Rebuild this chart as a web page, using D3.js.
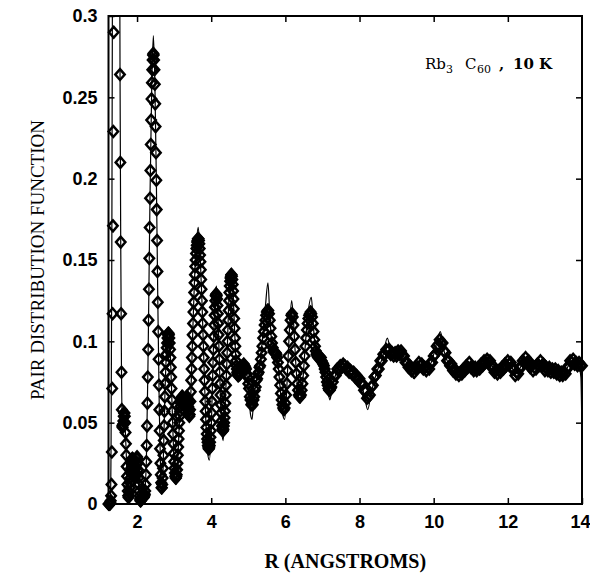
<!DOCTYPE html>
<html>
<head>
<meta charset="utf-8">
<script src="https://cdn.jsdelivr.net/npm/d3@7"></script>
<style>
  body { margin: 0; background: #fff; }
  svg { display: block; }
</style>
</head>
<body>
<div id="chart"></div>
<script>
// measured PDF, fine sampling (R from 1.23 in steps of 0.01)
const rStartFine = 1.23, rStepFine = 0.01;
const gFine = [
  0.000, 0.000, 0.000, 0.000, 0.000, 0.001, 0.002, 0.005, 0.012, 0.032, // 1.23
  0.071, 0.117, 0.171, 0.229, 0.290, 0.352, 0.420, 0.500, 0.580, 0.640, // 1.33
  0.680, 0.700, 0.700, 0.670, 0.620, 0.560, 0.500, 0.440, 0.390, 0.350, // 1.43
  0.308, 0.264, 0.210, 0.161, 0.117, 0.081, 0.058, 0.048, 0.047, 0.049, // 1.53
  0.051, 0.054, 0.056, 0.056, 0.054, 0.050, 0.044, 0.037, 0.030, 0.023, // 1.63
  0.017, 0.012, 0.008, 0.005, 0.004, 0.005, 0.007, 0.010, 0.013, 0.016, // 1.73
  0.019, 0.022, 0.025, 0.027, 0.028, 0.028, 0.027, 0.025, 0.022, 0.019, // 1.83
  0.017, 0.016, 0.017, 0.019, 0.022, 0.025, 0.028, 0.029, 0.028, 0.025, // 1.93
  0.021, 0.016, 0.012, 0.008, 0.005, 0.003, 0.002, 0.002, 0.003, 0.004, // 2.03
  0.004, 0.004, 0.004, 0.004, 0.004, 0.004, 0.005, 0.005, 0.006, 0.008, // 2.13
  0.012, 0.018, 0.026, 0.036, 0.048, 0.062, 0.078, 0.095, 0.113, 0.132, // 2.23
  0.151, 0.170, 0.188, 0.205, 0.221, 0.236, 0.249, 0.259, 0.267, 0.273, // 2.33
  0.276, 0.277, 0.276, 0.273, 0.267, 0.258, 0.246, 0.232, 0.216, 0.199, // 2.43
  0.181, 0.162, 0.143, 0.124, 0.106, 0.089, 0.073, 0.058, 0.045, 0.034, // 2.53
  0.025, 0.018, 0.013, 0.010, 0.010, 0.012, 0.016, 0.022, 0.030, 0.039, // 2.63
  0.048, 0.057, 0.066, 0.074, 0.081, 0.087, 0.092, 0.096, 0.099, 0.102, // 2.73
  0.104, 0.105, 0.105, 0.104, 0.102, 0.099, 0.095, 0.090, 0.084, 0.078, // 2.83
  0.071, 0.064, 0.057, 0.050, 0.043, 0.037, 0.031, 0.026, 0.022, 0.019, // 2.93
  0.017, 0.016, 0.016, 0.017, 0.018, 0.021, 0.025, 0.030, 0.035, 0.040, // 3.03
  0.045, 0.050, 0.054, 0.057, 0.060, 0.062, 0.064, 0.065, 0.066, 0.066, // 3.13
  0.066, 0.065, 0.064, 0.063, 0.062, 0.061, 0.061, 0.062, 0.063, 0.064, // 3.23
  0.065, 0.066, 0.066, 0.065, 0.063, 0.060, 0.057, 0.055, 0.054, 0.055, // 3.33
  0.058, 0.063, 0.069, 0.076, 0.083, 0.090, 0.097, 0.104, 0.111, 0.118, // 3.43
  0.124, 0.130, 0.136, 0.141, 0.146, 0.150, 0.154, 0.157, 0.159, 0.161, // 3.53
  0.162, 0.163, 0.163, 0.163, 0.162, 0.160, 0.157, 0.153, 0.149, 0.144, // 3.63
  0.138, 0.132, 0.125, 0.118, 0.111, 0.104, 0.097, 0.090, 0.083, 0.076, // 3.73
  0.069, 0.063, 0.057, 0.052, 0.047, 0.043, 0.040, 0.038, 0.036, 0.035, // 3.83
  0.034, 0.034, 0.035, 0.036, 0.038, 0.041, 0.045, 0.050, 0.056, 0.063, // 3.93
  0.071, 0.079, 0.087, 0.095, 0.103, 0.110, 0.116, 0.121, 0.125, 0.128, // 4.03
  0.129, 0.129, 0.128, 0.126, 0.122, 0.117, 0.111, 0.104, 0.097, 0.089, // 4.13
  0.081, 0.074, 0.067, 0.061, 0.056, 0.051, 0.048, 0.046, 0.045, 0.045, // 4.23
  0.046, 0.048, 0.050, 0.053, 0.057, 0.062, 0.067, 0.073, 0.079, 0.086, // 4.33
  0.093, 0.100, 0.107, 0.113, 0.119, 0.125, 0.130, 0.134, 0.137, 0.139, // 4.43
  0.140, 0.141, 0.141, 0.140, 0.138, 0.135, 0.131, 0.126, 0.120, 0.114, // 4.53
  0.108, 0.102, 0.097, 0.092, 0.088, 0.085, 0.083, 0.081, 0.080, 0.079, // 4.63
  0.079, 0.079, 0.080                                                   // 4.73
];

// R from 4.76 in steps of 0.02
const rStartMid = 4.76, rStepMid = 0.02;
const gMid = [
  0.081, 0.080, 0.083, 0.082, 0.085, 0.084, 0.086, 0.085, 0.084, 0.083, // 4.76
  0.080, 0.078, 0.074, 0.071, 0.066, 0.064, 0.061, 0.062, 0.061, 0.064, // 4.96
  0.066, 0.070, 0.072, 0.076, 0.077, 0.080, 0.081, 0.084, 0.085, 0.089, // 5.16
  0.093, 0.097, 0.102, 0.106, 0.110, 0.113, 0.116, 0.118, 0.119, 0.119, // 5.36
  0.117, 0.113, 0.108, 0.103, 0.099, 0.096, 0.094, 0.093, 0.093, 0.093, // 5.56
  0.092, 0.090, 0.087, 0.083, 0.078, 0.073, 0.068, 0.064, 0.061, 0.059, // 5.76
  0.058, 0.059, 0.062, 0.067, 0.074, 0.082, 0.091, 0.100, 0.107, 0.113, // 5.96
  0.116, 0.117, 0.115, 0.110, 0.103, 0.095, 0.087, 0.080, 0.074, 0.070, // 6.16
  0.067, 0.066, 0.066, 0.067, 0.070, 0.074, 0.079, 0.085, 0.091, 0.097, // 6.36
  0.102, 0.107, 0.111, 0.114, 0.116, 0.117, 0.118, 0.117, 0.115, 0.111, // 6.56
  0.106, 0.101, 0.097, 0.094, 0.092, 0.091, 0.090, 0.090, 0.091, 0.089, // 6.76
  0.090, 0.088, 0.087, 0.086, 0.085, 0.083, 0.081, 0.078, 0.075, 0.073, // 6.96
  0.071, 0.070, 0.070, 0.071, 0.072                                     // 7.16
];

// R from 7.28 in steps of 0.04
const rStartLong = 7.28, rStepLong = 0.04;
const gLong = [
  0.075, 0.079, 0.079, 0.083, 0.082, 0.085, 0.084, 0.086, 0.085, 0.083, // 7.28
  0.084, 0.081, 0.082, 0.080, 0.081, 0.078, 0.079, 0.076, 0.077, 0.074, // 7.68
  0.074, 0.070, 0.069, 0.065, 0.066, 0.067, 0.072, 0.073, 0.078, 0.079, // 8.08
  0.083, 0.083, 0.088, 0.088, 0.092, 0.092, 0.095, 0.094, 0.095, 0.092, // 8.48
  0.093, 0.091, 0.093, 0.091, 0.094, 0.092, 0.094, 0.091, 0.091, 0.087, // 8.88
  0.087, 0.084, 0.085, 0.082, 0.083, 0.081, 0.083, 0.084, 0.087, 0.085, // 9.28
  0.086, 0.083, 0.084, 0.082, 0.084, 0.083, 0.087, 0.087, 0.091, 0.092, // 9.68
  0.097, 0.098, 0.101, 0.099, 0.099, 0.094, 0.093, 0.088, 0.088, 0.085, // 10.08
  0.086, 0.082, 0.083, 0.080, 0.081, 0.079, 0.081, 0.080, 0.083, 0.082, // 10.48
  0.085, 0.084, 0.087, 0.084, 0.084, 0.082, 0.084, 0.082, 0.084, 0.083, // 10.88
  0.086, 0.085, 0.088, 0.087, 0.089, 0.087, 0.088, 0.084, 0.085, 0.081, // 11.28
  0.082, 0.080, 0.082, 0.081, 0.084, 0.083, 0.086, 0.085, 0.088, 0.086, // 11.68
  0.087, 0.083, 0.083, 0.079, 0.081, 0.080, 0.084, 0.084, 0.088, 0.087, // 12.08
  0.090, 0.087, 0.088, 0.084, 0.085, 0.082, 0.084, 0.083, 0.086, 0.085, // 12.48
  0.088, 0.085, 0.086, 0.082, 0.084, 0.082, 0.084, 0.081, 0.083, 0.081, // 12.88
  0.083, 0.080, 0.082, 0.079, 0.081, 0.079, 0.081, 0.080, 0.084, 0.084, // 13.28
  0.088, 0.087, 0.089, 0.086, 0.087, 0.085, 0.087, 0.085, 0.085        // 13.68
];

// model curve (solid line)
const lineR = [1.23, 1.28, 1.30, 1.32, 1.34, 1.40, 1.45, 1.50, 1.52, 1.54, 1.56, 1.58, 1.60, 1.65, 1.70,
  1.76, 1.80, 1.87, 1.94, 2.00, 2.08, 2.18, 2.25, 2.30, 2.35, 2.40, 2.44, 2.48, 2.52, 2.56,
  2.60, 2.64, 2.67, 2.70, 2.75, 2.80, 2.85, 2.90, 2.95, 3.00, 3.05, 3.10, 3.15, 3.21, 3.28,
  3.34, 3.41, 3.45, 3.50, 3.55, 3.60, 3.65, 3.70, 3.75, 3.80, 3.85, 3.90, 3.95, 4.00, 4.05,
  4.10, 4.14, 4.18, 4.23, 4.28, 4.32, 4.36, 4.42, 4.48, 4.54, 4.58, 4.62, 4.66, 4.70, 4.80,
  4.90, 5.00, 5.06, 5.10, 5.14, 5.22, 5.30, 5.38, 5.46, 5.53, 5.58, 5.64, 5.72, 5.78, 5.86,
  5.92, 5.98, 6.04, 6.10, 6.17, 6.22, 6.28, 6.34, 6.40, 6.46, 6.52, 6.60, 6.70, 6.76, 6.82,
  6.90, 7.00, 7.08, 7.14, 7.20, 7.26, 7.40, 7.60, 7.80, 8.00, 8.12, 8.22, 8.32, 8.48, 8.62,
  8.75, 8.85, 8.95, 9.10, 9.20, 9.35, 9.47, 9.58, 9.65, 9.80, 9.95, 10.08, 10.18, 10.28, 10.40,
  10.55, 10.70, 10.95, 11.15, 11.45, 11.72, 12.02, 12.22, 12.48, 12.70, 12.88, 13.10, 13.30, 13.50, 13.72,
  13.90, 13.97, 14.00];
const lineG = [0.000, 0.002, 0.040, 0.160, 0.360, 0.800, 0.950, 0.700, 0.450, 0.270, 0.160, 0.083, 0.050, 0.057, 0.036,
  0.003, 0.009, 0.029, 0.015, 0.030, 0.002, 0.003, 0.025, 0.095, 0.190, 0.262, 0.288, 0.260, 0.200, 0.125,
  0.058, 0.015, 0.006, 0.020, 0.066, 0.097, 0.108, 0.091, 0.057, 0.025, 0.012, 0.028, 0.054, 0.068, 0.060,
  0.067, 0.052, 0.067, 0.104, 0.138, 0.160, 0.170, 0.154, 0.125, 0.089, 0.054, 0.032, 0.027, 0.045, 0.088,
  0.124, 0.134, 0.117, 0.080, 0.047, 0.039, 0.052, 0.086, 0.127, 0.143, 0.135, 0.113, 0.091, 0.080, 0.082,
  0.086, 0.072, 0.055, 0.052, 0.062, 0.076, 0.084, 0.101, 0.121, 0.136, 0.116, 0.098, 0.093, 0.090, 0.071,
  0.056, 0.052, 0.072, 0.103, 0.125, 0.112, 0.087, 0.068, 0.062, 0.072, 0.092, 0.115, 0.127, 0.108, 0.094,
  0.090, 0.087, 0.081, 0.071, 0.064, 0.071, 0.082, 0.086, 0.081, 0.075, 0.068, 0.058, 0.069, 0.082, 0.090,
  0.102, 0.093, 0.091, 0.096, 0.090, 0.083, 0.077, 0.086, 0.086, 0.082, 0.088, 0.099, 0.106, 0.094, 0.086,
  0.081, 0.079, 0.086, 0.083, 0.088, 0.081, 0.087, 0.080, 0.089, 0.083, 0.087, 0.083, 0.082, 0.080, 0.088,
  0.086, 0.078, 0.040];

const xTicks = [2, 4, 6, 8, 10, 12, 14];
const yTicks = [0, 0.05, 0.1, 0.15, 0.2, 0.25, 0.3];

const width = 590, height = 573;
const margin = { top: 16, right: 8, bottom: 69, left: 108.5 };

const x = d3.scaleLinear().domain([1.23, 14]).range([margin.left, width - margin.right]);
const y = d3.scaleLinear().domain([0, 0.3]).range([height - margin.bottom, margin.top]);

// put the three sampled pieces together as [R, g]
const points = [];
gFine.forEach((g, i) => points.push([+(rStartFine + i * rStepFine).toFixed(2), g]));
gMid.forEach((g, i) => points.push([+(rStartMid + i * rStepMid).toFixed(2), g]));
gLong.forEach((g, i) => points.push([+(rStartLong + i * rStepLong).toFixed(2), g]));

const svg = d3.select("#chart").append("svg")
  .attr("width", width)
  .attr("height", height)
  .style("font-family", "'Liberation Serif', 'Times New Roman', serif");

svg.append("defs").append("clipPath").attr("id", "plot")
  .append("rect")
  .attr("x", x.range()[0]).attr("y", y.range()[1])
  .attr("width", x.range()[1] - x.range()[0])
  .attr("height", y.range()[0] - y.range()[1]);

// model line
const line = d3.line().x(d => x(d[0])).y(d => y(d[1])).curve(d3.curveMonotoneX);
svg.append("path")
  .datum(d3.zip(lineR, lineG))
  .attr("clip-path", "url(#plot)")
  .attr("fill", "none")
  .attr("stroke", "#000")
  .attr("stroke-width", 1.2)
  .attr("d", line);

// data diamonds (open), points above the axis range are not drawn
svg.append("g")
  .selectAll("path")
  .data(points.filter(d => d[1] <= 0.3 && d[0] <= 14))
  .join("path")
  .attr("d", "M0,-5.4L4.7,0L0,5.4L-4.7,0Z")
  .attr("transform", d => `translate(${x(d[0])},${y(d[1])})`)
  .attr("fill", "none")
  .attr("stroke", "#000")
  .attr("stroke-width", 2.5);

// axes, ticks pointing inward
function styleAxis(g) {
  g.select(".domain").remove();
  g.selectAll(".tick line").attr("stroke", "#000").attr("stroke-width", 1.5);
  g.selectAll(".tick text")
    .attr("fill", "#000")
    .style("font-size", "18px")
    .style("font-weight", "bold");
}

const gx = svg.append("g")
  .attr("transform", `translate(0,${y(0)})`)
  .call(d3.axisBottom(x).tickValues(xTicks).tickSize(-6).tickPadding(11).tickFormat(d3.format("d")))
  .call(styleAxis);
// keep the last label inside the page
gx.selectAll(".tick text").filter(d => d === 14).attr("dx", -2);

svg.append("g")
  .attr("transform", `translate(0,${y(0.3)})`)
  .call(d3.axisTop(x).tickValues(xTicks.slice(0, -1)).tickSize(-6).tickFormat(""))
  .call(styleAxis);

svg.append("g")
  .attr("transform", `translate(${x(1.23)},0)`)
  .call(d3.axisLeft(y).tickValues(yTicks).tickSize(-6).tickPadding(11).tickFormat(d => String(d)))
  .call(styleAxis);

svg.append("g")
  .attr("transform", `translate(${x(14)},0)`)
  .call(d3.axisRight(y).tickValues(yTicks.slice(1, -1)).tickSize(-6).tickFormat(""))
  .call(styleAxis);

// frame
svg.append("rect")
  .attr("x", x(1.23)).attr("y", y(0.3))
  .attr("width", x(14) - x(1.23))
  .attr("height", y(0) - y(0.3))
  .attr("fill", "none")
  .attr("stroke", "#000")
  .attr("stroke-width", 2);

// axis titles
svg.append("text")
  .attr("x", (x(1.23) + x(14)) / 2)
  .attr("y", 568)
  .attr("text-anchor", "middle")
  .style("font-size", "20px")
  .style("font-weight", "bold")
  .text("R (ANGSTROMS)");

svg.append("text")
  .attr("transform", `translate(44,${(y(0) + y(0.3)) / 2}) rotate(-90)`)
  .attr("text-anchor", "middle")
  .style("font-size", "19px")
  .text("PAIR DISTRIBUTION FUNCTION");

// sample label
const lab = svg.append("g")
  .style("font-family", "'DejaVu Serif', serif")
  .style("font-size", "15px")
  .attr("fill", "#000");
lab.append("text").attr("x", 425).attr("y", 69).text("Rb");
lab.append("text").attr("x", 446).attr("y", 73).style("font-size", "11px").text("3");
lab.append("text").attr("x", 465).attr("y", 69).text("C");
lab.append("text").attr("x", 477).attr("y", 73).style("font-size", "11px").text("60");
lab.append("text").attr("x", 499).attr("y", 69).style("font-weight", "bold").text(",");
lab.append("text").attr("x", 513).attr("y", 69).style("font-weight", "bold").text("10 K");
</script>
</body>
</html>
